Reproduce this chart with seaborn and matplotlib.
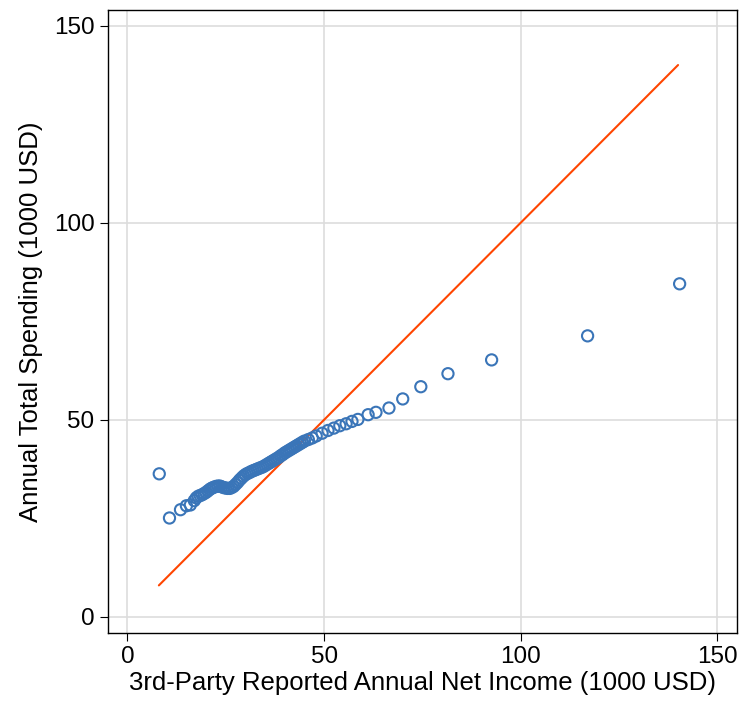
import numpy as np
import pandas as pd
import matplotlib.pyplot as plt
import seaborn as sns

# quantiles (1000 USD)
income = [8.1, 10.7, 13.5, 15.0, 16.0, 17.0, 17.5, 18.0, 18.5, 19.0, 19.5, 20.0, 20.5, 21.0,
          21.5, 22.0, 22.5, 23.0, 23.5, 24.0, 24.5, 25.0, 25.5, 26.0, 26.5, 27.0, 27.5,
          28.0, 28.5, 29.0, 29.5, 30.0, 30.5, 31.0, 31.5, 32.0, 32.5, 33.0, 33.5, 34.0,
          34.5, 35.0, 35.5, 36.0, 36.5, 37.0, 37.5, 38.0, 38.5, 39.0, 39.5, 40.0, 40.5,
          41.0, 41.5, 42.0, 42.5, 43.0, 43.5, 44.0, 44.5, 45.0, 46.0, 47.0, 48.0, 49.5,
          51.0, 52.5, 54.0, 55.6, 57.1, 58.6, 61.2, 63.2, 66.5, 70.0, 74.6, 81.5, 92.6,
          117.0, 140.4]
spending = [36.3, 25.1, 27.2, 28.2, 28.4, 29.5, 30.2, 30.6, 30.8, 31.0, 31.3, 31.6, 32.0, 32.4,
            32.7, 32.9, 33.1, 33.2, 33.2, 33.0, 32.8, 32.7, 32.6, 32.6, 32.8, 33.1, 33.6,
            34.1, 34.7, 35.2, 35.7, 36.1, 36.4, 36.6, 36.9, 37.1, 37.3, 37.5, 37.7, 37.9,
            38.1, 38.4, 38.7, 39.0, 39.3, 39.6, 39.9, 40.2, 40.5, 40.9, 41.2, 41.6, 41.9,
            42.2, 42.5, 42.8, 43.1, 43.4, 43.7, 44.0, 44.3, 44.6, 45.0, 45.4, 45.9, 46.6,
            47.3, 47.9, 48.5, 49.0, 49.6, 50.1, 51.3, 51.9, 53.0, 55.3, 58.4, 61.7, 65.2,
            71.3, 84.5]

df = pd.DataFrame({"income": income, "spending": spending})

sns.set_style("whitegrid")
plt.rcParams['font.family'] = ['Liberation Sans', 'DejaVu Sans']

fig, ax = plt.subplots(figsize=(7.43, 7.03), dpi=100)
sns.scatterplot(data=df, x="income", y="spending", ax=ax, facecolors="none",
                edgecolor="#3a75b8", linewidth=1.5, s=65, zorder=3)
ax.plot([8, 140], [8, 140], color="#ff4500", lw=1.5, zorder=2)

ax.set_xlim(-5, 155)
ax.set_ylim(-4, 154)
ax.set_xticks([0, 50, 100, 150])
ax.set_yticks([0, 50, 100, 150])
ax.grid(color="#dddddd", lw=1.2)
for s in ax.spines.values():
    s.set_color("black")
    s.set_linewidth(1)
ax.tick_params(labelsize=17.5, length=6, color="black", labelcolor="black", left=True, bottom=True)
ax.set_xlabel("3rd-Party Reported Annual Net Income (1000 USD)", fontsize=18.5, color="black", labelpad=2)
ax.set_ylabel("Annual Total Spending (1000 USD)", fontsize=18.5, color="black", labelpad=8)

plt.subplots_adjust(left=0.145, right=0.992, top=0.986, bottom=0.1)
plt.savefig("out.png", dpi=100)
